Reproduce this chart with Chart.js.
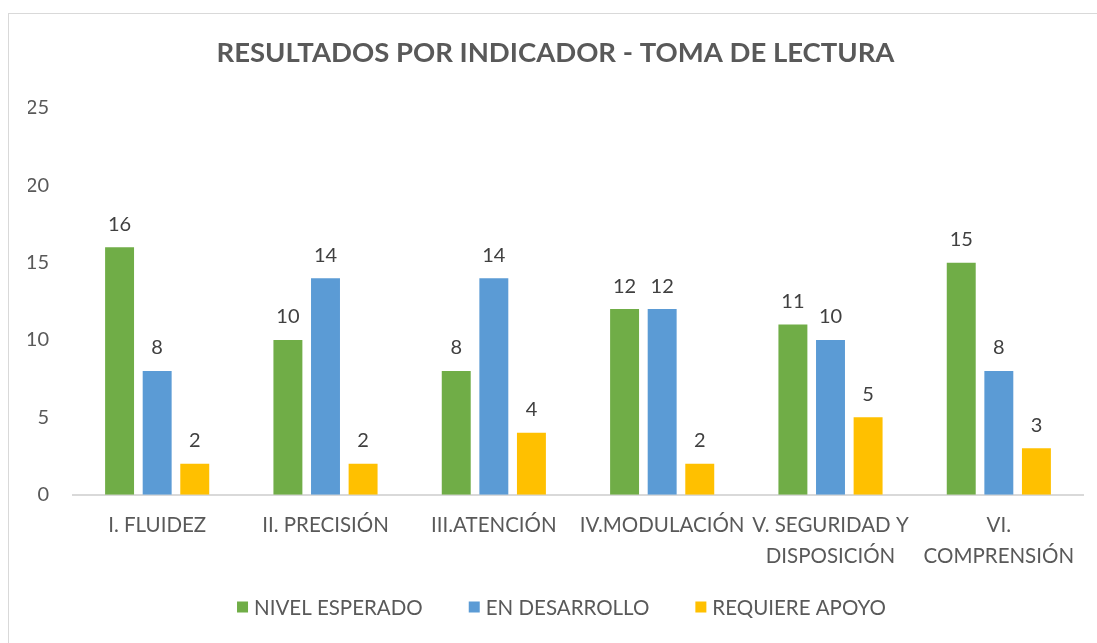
<!DOCTYPE html>
<html>
<head>
<meta charset="utf-8">
<script src="https://cdn.jsdelivr.net/npm/chart.js@4"></script>
<style>
  body { margin: 0; background: #fff; }
  #wrap { position: relative; width: 1097px; height: 643px; overflow: hidden; }
  #frame { position: absolute; left: 8px; top: 13px; width: 1200px; height: 700px; border: 1px solid #D9D9D9; pointer-events: none; }
</style>
</head>
<body>
<div id="wrap">
  <canvas id="resultsChart" width="1097" height="643"></canvas>
  <div id="frame"></div>
</div>
<script>
// chart values
const categories = [
    'I. FLUIDEZ',
    'II. PRECISIÓN',
    'III.ATENCIÓN',
    'IV.MODULACIÓN',
    ['V. SEGURIDAD Y', 'DISPOSICIÓN'],
    ['VI.', 'COMPRENSIÓN']
];
const nivelEsperado = [16, 10, 8, 12, 11, 15];
const enDesarrollo = [8, 14, 14, 12, 10, 8];
const requiereApoyo = [2, 2, 4, 2, 5, 3];
const yTicks = [0, 5, 10, 15, 20, 25];

const textColor = '#595959';
const fontFamily = 'Lato, "Open Sans", sans-serif';

// draws the value above each bar
const valueLabels = {
    id: 'valueLabels',
    afterDatasetsDraw(chart) {
        const ctx = chart.ctx;
        ctx.save();
        ctx.fillStyle = '#404040';
        ctx.font = '20px ' + fontFamily;
        ctx.textAlign = 'center';
        ctx.textBaseline = 'bottom';
        chart.data.datasets.forEach((ds, i) => {
            chart.getDatasetMeta(i).data.forEach((bar, j) => {
                ctx.fillText(ds.data[j], bar.x, bar.y - 13);
            });
        });
        ctx.restore();
    }
};

// legend row at the bottom, spaced like the original (Excel style)
const bottomLegend = {
    id: 'bottomLegend',
    afterDraw(chart) {
        const ctx = chart.ctx;
        const box = 11, gap = 6, spacing = 46, y = 607;
        ctx.save();
        ctx.font = '20.5px ' + fontFamily;
        ctx.textBaseline = 'middle';
        const items = chart.data.datasets.map(ds => ({
            text: ds.label, color: ds.backgroundColor,
            w: box + gap + ctx.measureText(ds.label).width
        }));
        const total = items.reduce((s, it) => s + it.w, 0) + spacing * (items.length - 1);
        const center = chart.titleBlock.left + chart.titleBlock.width / 2 + 6;
        let x = center - total / 2;
        items.forEach(it => {
            ctx.fillStyle = it.color;
            ctx.fillRect(x, y - box / 2, box, box);
            ctx.fillStyle = textColor;
            ctx.fillText(it.text, x + box + gap, y + 1);
            x += it.w + spacing;
        });
        ctx.restore();
    }
};

document.addEventListener('DOMContentLoaded', function() {
    const ctx = document.getElementById('resultsChart').getContext('2d');

    new Chart(ctx, {
        type: 'bar',
        data: {
            labels: categories,
            datasets: [
                { label: 'NIVEL ESPERADO', data: nivelEsperado, backgroundColor: '#70AD47' },
                { label: 'EN DESARROLLO', data: enDesarrollo, backgroundColor: '#5B9BD5' },
                { label: 'REQUIERE APOYO', data: requiereApoyo, backgroundColor: '#FFC000' }
            ]
        },
        options: {
            responsive: false,
            animation: false,
            categoryPercentage: 0.67,
            barPercentage: 0.77,
            layout: { padding: { left: 28, right: 14, top: 20, bottom: 56 } },
            plugins: {
                title: {
                    display: true,
                    text: 'RESULTADOS POR INDICADOR - TOMA DE LECTURA',
                    color: textColor,
                    font: { family: fontFamily, size: 27.5, weight: 'bold' },
                    padding: { top: 17, bottom: 38 }
                },
                legend: { display: false },
                tooltip: { enabled: false }
            },
            scales: {
                x: {
                    grid: { display: false, drawTicks: false },
                    border: { display: true, color: '#D9D9D9', width: 2 },
                    ticks: {
                        color: textColor,
                        font: { family: fontFamily, size: 20.5, lineHeight: 1.52 },
                        padding: 15,
                        maxRotation: 0,
                        autoSkip: false
                    }
                },
                y: {
                    min: 0,
                    max: 25,
                    afterBuildTicks(axis) { axis.ticks = yTicks.map(v => ({ value: v })); },
                    afterFit(axis) { axis.width = 45; },
                    grid: { display: false, drawTicks: false },
                    border: { display: false },
                    ticks: {
                        color: textColor,
                        font: { family: fontFamily, size: 20 },
                        padding: 24
                    }
                }
            }
        },
        plugins: [valueLabels, bottomLegend]
    });
});
</script>
</body>
</html>
